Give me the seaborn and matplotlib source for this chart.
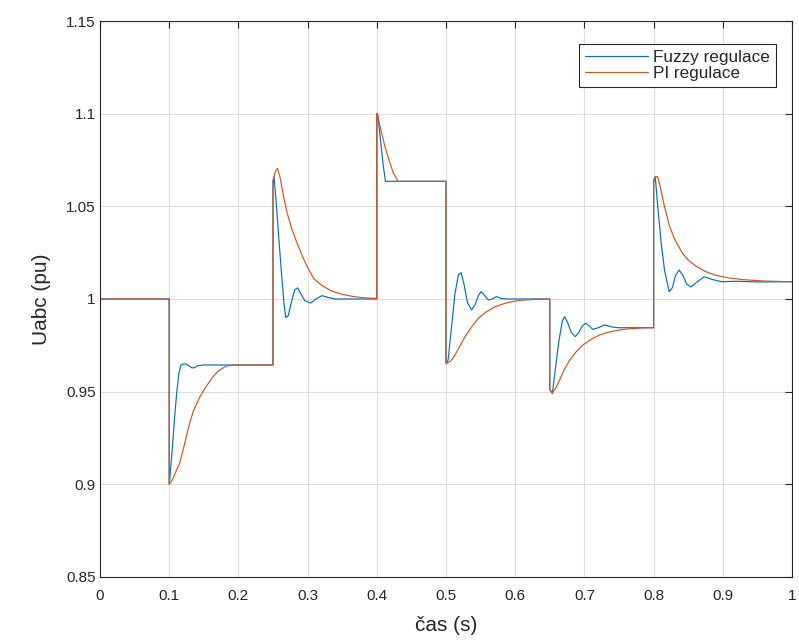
import matplotlib
matplotlib.use("Agg")
import matplotlib.pyplot as plt
import numpy as np
import pandas as pd
import seaborn as sns

# ---- data ----
series_names = ["Fuzzy regulace", "PI regulace"]

fuzzy_t = [0.0, 0.1, 0.1, 0.102, 0.105, 0.108, 0.111, 0.114, 0.117, 0.121, 0.125, 0.129, 0.133,
           0.137, 0.141, 0.15, 0.25,
           0.25, 0.2515, 0.254, 0.258, 0.262, 0.266, 0.2685, 0.272, 0.277, 0.2815, 0.2855, 0.29,
           0.296, 0.3046, 0.312, 0.321, 0.33, 0.34, 0.4,
           0.4, 0.4015, 0.405, 0.409, 0.4125, 0.5,
           0.5, 0.503, 0.508, 0.513, 0.518, 0.5219, 0.526, 0.531, 0.5371, 0.542, 0.547, 0.5507,
           0.5555, 0.5612, 0.567, 0.5727, 0.58, 0.59, 0.65,
           0.65, 0.6537, 0.658, 0.663, 0.668, 0.6715, 0.676, 0.681, 0.6868, 0.692, 0.697, 0.7017,
           0.707, 0.7122, 0.72, 0.729, 0.74, 0.75, 0.8,
           0.8, 0.8024, 0.806, 0.811, 0.816, 0.8225, 0.827, 0.832, 0.8369, 0.842, 0.848, 0.854,
           0.862, 0.873, 0.885, 0.899, 0.92, 0.95, 1.0]
fuzzy_u = [1.0, 1.0, 0.900, 0.908, 0.922, 0.937, 0.950, 0.960, 0.9645, 0.9650, 0.9648, 0.9638, 0.9628,
           0.9630, 0.9640, 0.9644, 0.9644,
           1.063, 1.066, 1.055, 1.035, 1.015, 0.997, 0.990, 0.991, 0.999, 1.005, 1.006, 1.003,
           0.999, 0.9978, 1.0, 1.0018, 1.0008, 1.0, 1.0,
           1.1, 1.099, 1.087, 1.073, 1.0635, 1.0635,
           0.965, 0.967, 0.985, 1.003, 1.013, 1.0142, 1.008, 0.998, 0.9941, 0.997, 1.002, 1.004,
           1.002, 0.9995, 1.0, 1.0013, 1.0003, 1.0, 1.0,
           0.951, 0.949, 0.962, 0.977, 0.988, 0.9905, 0.987, 0.982, 0.9797, 0.982, 0.9855, 0.9869,
           0.9855, 0.9836, 0.9845, 0.986, 0.9849, 0.9845, 0.9845,
           1.064, 1.066, 1.05, 1.03, 1.015, 1.004, 1.006, 1.013, 1.0156, 1.013, 1.008, 1.0065,
           1.009, 1.012, 1.0105, 1.0093, 1.0096, 1.0092, 1.0093]

pi_t = [0.0, 0.1, 0.1, 0.103, 0.107, 0.111, 0.1151, 0.12, 0.125, 0.1295, 0.135, 0.1439, 0.152,
        0.163, 0.172, 0.1823, 0.195, 0.25,
        0.25, 0.2535, 0.2565, 0.26, 0.265, 0.27, 0.277, 0.2849, 0.292, 0.3, 0.3094, 0.32, 0.3334,
        0.35, 0.367, 0.38, 0.4,
        0.4, 0.401, 0.406, 0.412, 0.418, 0.424, 0.4307, 0.5,
        0.5, 0.5012, 0.507, 0.5132, 0.52, 0.5276, 0.537, 0.5468, 0.558, 0.5708, 0.583, 0.5942,
        0.61, 0.63, 0.65,
        0.65, 0.6537, 0.658, 0.6643, 0.671, 0.6787, 0.688, 0.6978, 0.71, 0.7219, 0.736, 0.7506,
        0.767, 0.7842, 0.8,
        0.8, 0.8035, 0.8058, 0.81, 0.815, 0.8225, 0.83, 0.8417, 0.85, 0.8609, 0.875, 0.8897, 0.91,
        0.928, 0.96, 1.0]
pi_u = [1.0, 1.0, 0.900, 0.9015, 0.9045, 0.908, 0.9113, 0.9185, 0.926, 0.933, 0.9395, 0.947, 0.952,
        0.958, 0.9615, 0.9638, 0.9644, 0.9644,
        1.064, 1.069, 1.0705, 1.066, 1.056, 1.047, 1.038, 1.030, 1.0235, 1.017, 1.0108, 1.0075, 1.0045,
        1.0025, 1.0013, 1.0007, 1.0003,
        1.1, 1.0995, 1.091, 1.082, 1.0745, 1.068, 1.0635, 1.0635,
        0.966, 0.9653, 0.9665, 0.970, 0.9745, 0.9797, 0.985, 0.9896, 0.993, 0.9958, 0.9974, 0.9985,
        0.9994, 0.9998, 1.0,
        0.951, 0.9495, 0.9515, 0.9563, 0.962, 0.967, 0.9715, 0.9752, 0.9783, 0.9806, 0.9822, 0.9833,
        0.984, 0.9844, 0.9845,
        1.063, 1.066, 1.066, 1.06, 1.051, 1.040, 1.0325, 1.0247, 1.021, 1.0178, 1.0148, 1.0128, 1.0113,
        1.0105, 1.0097, 1.0093]

x_ticks = [0, 0.1, 0.2, 0.3, 0.4, 0.5, 0.6, 0.7, 0.8, 0.9, 1.0]
x_tick_labels = ["0", "0.1", "0.2", "0.3", "0.4", "0.5", "0.6", "0.7", "0.8", "0.9", "1"]
y_ticks = [0.85, 0.9, 0.95, 1.0, 1.05, 1.1, 1.15]
y_tick_labels = ["0.85", "0.9", "0.95", "1", "1.05", "1.1", "1.15"]
x_label = "čas (s)"
y_label = "Uabc (pu)"

df = pd.DataFrame({
    "t": fuzzy_t + pi_t,
    "u": fuzzy_u + pi_u,
    "serie": [series_names[0]] * len(fuzzy_t) + [series_names[1]] * len(pi_t),
})

sns.set_theme(style="white")
plt.rcParams["font.family"] = ["Liberation Sans", "DejaVu Sans"]

dark = "#262626"
fig = plt.figure(figsize=(7.99, 6.42), dpi=100)
ax = fig.add_axes([100 / 799, 1 - 577 / 642, 692 / 799, 556 / 642])

sns.lineplot(data=df, x="t", y="u", hue="serie", hue_order=series_names,
             palette=["#0072BD", "#D95319"], estimator=None, sort=False,
             linewidth=0.85, ax=ax)

ax.set_xlim(0, 1)
ax.set_ylim(0.85, 1.15)
ax.set_xticks(x_ticks)
ax.set_xticklabels(x_tick_labels)
ax.set_yticks(y_ticks)
ax.set_yticklabels(y_tick_labels)
ax.grid(True, color="#dedede", linewidth=0.8)
ax.set_axisbelow(True)
for s in ax.spines.values():
    s.set_color(dark)
    s.set_linewidth(0.8)
ax.tick_params(direction="in", length=5, width=0.8, top=True, right=True,
               colors=dark, labelsize=11, pad=3)
ax.tick_params(axis="x", pad=9)
ax.set_xlabel(x_label, fontsize=15, color=dark, labelpad=9)
ax.set_ylabel(y_label, fontsize=15, color=dark, labelpad=11)

handles, labels = ax.get_legend_handles_labels()
leg = ax.legend(handles, labels, loc="upper right",
                bbox_to_anchor=((776 - 100) / 692, 1 - (44 - 21) / 556),
                borderaxespad=0, frameon=True, fancybox=False, framealpha=1,
                edgecolor=dark, fontsize=12.3, handlelength=3.7, handletextpad=0.3,
                labelspacing=0.08, borderpad=0.35)
leg.get_frame().set_linewidth(0.8)
for h in leg.get_lines():
    h.set_linewidth(0.85)

fig.savefig("out.png", dpi=100)
